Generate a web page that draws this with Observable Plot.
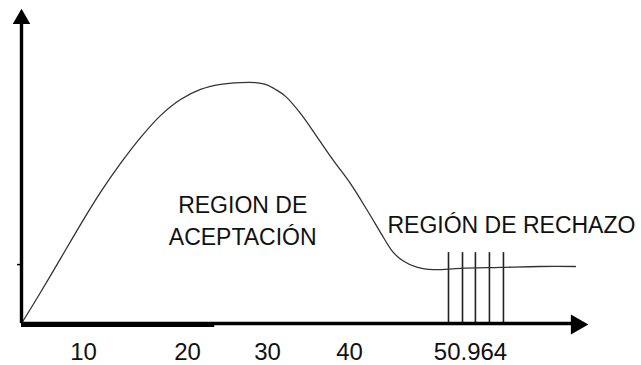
<!DOCTYPE html>
<html><head><meta charset="utf-8">
<script src="https://cdn.jsdelivr.net/npm/d3@7"></script>
<script src="https://cdn.jsdelivr.net/npm/@observablehq/plot@0.6"></script>
<style>body{margin:0;background:#fff}</style>
</head><body><div id="chart"></div>
<script>
// Curve (hand-drawn shape)
const curveX = [0, 3.06, 6.29, 9.52, 11.63, 13.56, 15.48, 17.40, 19.33, 21.63, 24.13, 26.63, 28.5, 29.75, 30.98, 32.20, 34.02, 36.10, 38.05, 40.09, 41.63, 43.08, 43.89, 44.80, 46.16, 47.61, 50.05, 53.68, 57.30, 60.47];
const curveY = [0, 9.84, 20.6, 31.4, 41.6, 50.8, 59.0, 66.0, 71.1, 74.3, 75.9, 76.5, 76.5, 75.9, 74.3, 72.1, 66.7, 59.0, 51.7, 44.4, 35.8, 27.3, 22.9, 20.0, 17.8, 17.1, 17.5, 17.8, 18.1, 18.1];
// Hatched rejection lines
const hatchX = [48.97, 50.24, 51.41, 52.68, 53.95];
const hatchTop = 22.5;
// Tick labels
const tickValues = [10, 20, 30, 40, 50.964];
const tickLabels = ["10", "20", "30", "40", "50.964"];
const yTick = [18.7];
// Region labels
const acceptLabel = "REGION DE\nACEPTACIÓN";
const acceptPos = {x: 26.9, y: 24.8};
const rejectLabel = "REGIÓN DE RECHAZO";
const rejectPos = {x: 43.44, y: 28.6};
// Axis extents
const xAxisEnd = 60.5, yAxisEnd = 96;
const arrowX = 60.59, arrowY = 96.7;

const points = curveX.map((x, i) => ({x, y: curveY[i]}));
const font = "'Liberation Sans', Arial, sans-serif";

const chart = Plot.plot({
  width: 641,
  height: 365,
  marginTop: 8,
  marginBottom: 42,
  marginLeft: 21,
  marginRight: 0,
  style: {fontFamily: font, background: "#fff", color: "#000"},
  x: {type: "linear", domain: [0, 10, 20, 30, 40, 50.964], range: [21, 83, 187, 267, 349, 470], label: null},
  y: {domain: [0, 100], label: null},
  marks: [
    Plot.axisX({ticks: tickValues, tickSize: 0, tickPadding: 19, tickFormat: (d, i) => tickLabels[i], fontSize: 24, fill: "#111"}),
    Plot.axisY({ticks: yTick, tickSize: 4, tickFormat: () => "", strokeWidth: 1.5, label: null}),
    Plot.ruleX(hatchX, {y1: 0, y2: hatchTop, stroke: "#222", strokeWidth: 1.6}),
    Plot.line(points, {x: "x", y: "y", curve: "catmull-rom", stroke: "#333", strokeWidth: 1.3}),
    Plot.ruleY([0], {x1: 0, x2: xAxisEnd, stroke: "#000", strokeWidth: 3.4}),
    Plot.ruleY([0], {x1: 0, x2: 23.4, stroke: "#000", strokeWidth: 5, dy: 1}),
    Plot.ruleX([0], {y1: 0, y2: yAxisEnd, stroke: "#000", strokeWidth: 3.4}),
    Plot.dot([0], {x: 0, y: arrowY, symbol: "triangle", r: 6.5, fill: "#000", stroke: null}),
    Plot.dot([0], {x: arrowX, y: 0, symbol: "triangle", r: 7.5, fill: "#000", stroke: null, rotate: 90, dy: 1}),
    Plot.text([acceptLabel], {x: acceptPos.x, y: acceptPos.y, text: d => d, textAnchor: "middle", lineAnchor: "bottom", lineHeight: 1.42, fontSize: 23, fill: "#111"}),
    Plot.text([rejectLabel], {x: rejectPos.x, y: rejectPos.y, text: d => d, textAnchor: "start", lineAnchor: "bottom", fontSize: 23, fill: "#111"})
  ]
});
document.getElementById("chart").appendChild(chart);
</script>
</body></html>
